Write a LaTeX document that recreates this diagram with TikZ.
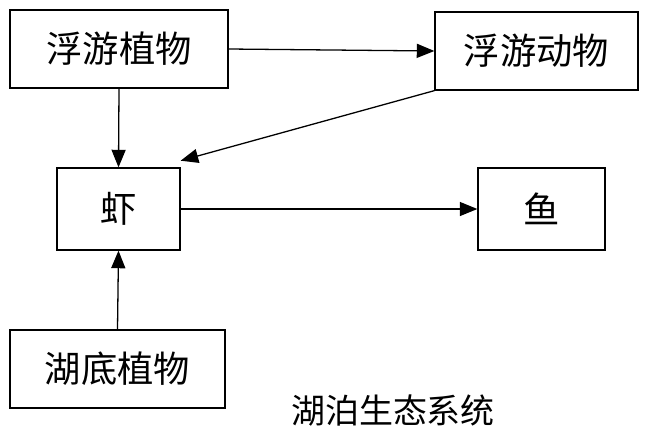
\documentclass[tikz,border=0pt]{standalone}
\usepackage{fontspec}
\newfontfamily\cjk{Noto Sans CJK SC}
\usetikzlibrary{arrows.meta}
\begin{document}
\begin{tikzpicture}[x=0.03cm,y=-0.03cm,
        box/.style={draw, line width=1.1pt, inner sep=0pt, font=\cjk\fontsize{31}{36}\selectfont},
        flow/.style={-{Triangle[length=15pt,width=12pt]}, line width=1.1pt}]
    \useasboundingbox (0,0) rectangle (657,439);

    % Kaestchen
    \node[box, minimum width=6.54cm, minimum height=2.34cm] (fp) at (119,49) {浮游植物};
    \node[box, minimum width=6.09cm, minimum height=2.34cm] (fz) at (536.5,51) {浮游动物};
    \node[box, minimum width=3.69cm, minimum height=2.46cm] (xia) at (118.5,209) {虾};
    \node[box, minimum width=3.81cm, minimum height=2.46cm] (yu) at (541.5,209) {鱼};
    \node[box, minimum width=6.45cm, minimum height=2.34cm] (hd) at (117.5,369) {湖底植物};
    \node[font=\cjk\fontsize{29}{34}\selectfont] (cap) at (393,411) {湖泊生态系统};

    % Pfeile
    \draw[flow] (fp.east) -- (fz.west);
    \draw[flow] (fp.south) -- (xia.north);
    \draw[flow] (fz.south west) -- ([yshift=0.2cm]xia.north east);
    \draw[flow] (xia.east) -- (yu.west);
    \draw[flow] (hd.north) -- (xia.south);
\end{tikzpicture}
\end{document}
